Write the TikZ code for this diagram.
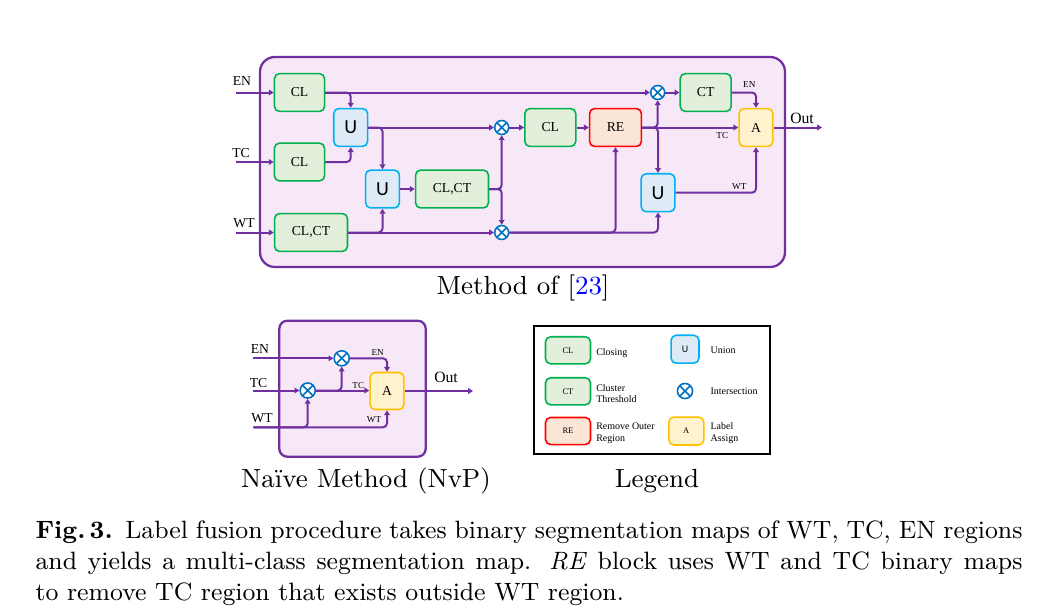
\documentclass[tikz,border=0pt]{standalone}
\usepackage{fontspec}
\usetikzlibrary{arrows.meta,calc}
\newfontfamily\dfont{Liberation Serif}
\newfontfamily\ufont{Carlito}
\definecolor{lp}{HTML}{7030A0}
\definecolor{panel}{HTML}{F6E8F7}
\definecolor{grB}{HTML}{00B050}
\definecolor{grF}{HTML}{E2EFDA}
\definecolor{blB}{HTML}{00B0F0}
\definecolor{blF}{HTML}{DEEBF7}
\definecolor{rdB}{HTML}{FF0000}
\definecolor{rdF}{HTML}{FBE5D6}
\definecolor{ywB}{HTML}{FFC000}
\definecolor{ywF}{HTML}{FFF2CC}
\definecolor{isc}{HTML}{0070C0}
\definecolor{refblue}{HTML}{0000FF}
\tikzset{
  box/.style={rounded corners=1.8pt, line width=0.55pt, inner sep=0pt,
    minimum width=17.6pt, minimum height=13.3pt, font=\dfont\fontsize{4.8}{6}\selectfont},
  gbox/.style={box, draw=grB, fill=grF},
  ubox/.style={box, draw=blB, fill=blF, minimum width=11.9pt, font=\ufont\fontsize{7}{8}\selectfont},
  rbox/.style={box, draw=rdB, fill=rdF, minimum width=18.2pt},
  abox/.style={box, draw=ywB, fill=ywF, minimum width=11.9pt},
  isect/.style={circle, draw=isc, fill=white, line width=0.55pt, minimum size=4.9pt, inner sep=0pt,
    path picture={\draw[isc, line width=0.55pt]
      (path picture bounding box.north west) -- (path picture bounding box.south east)
      (path picture bounding box.north east) -- (path picture bounding box.south west);}},
  wire/.style={draw=lp, line width=0.7pt, rounded corners=1.4pt, -{Triangle[length=1.7pt,width=2pt]}},
  inlbl/.style={inner sep=0pt, font=\dfont\fontsize{4.8}{6}\selectfont},
  outlbl/.style={inner sep=0pt, font=\dfont\fontsize{5.5}{6}\selectfont},
  smlbl/.style={inner sep=0pt, font=\dfont\fontsize{3.2}{4}\selectfont},
  panelbox/.style={draw=lp, fill=panel, line width=0.8pt},
  title/.style={inner sep=0pt, font=\fontsize{9.2}{11}\selectfont},
  legtxt/.style={inner sep=0pt, anchor=west, align=left, font=\dfont\fontsize{3.5}{4.1}\selectfont},
  legbox/.style={minimum width=15.8pt, minimum height=9.5pt, font=\dfont\fontsize{3}{4}\selectfont}
}
\begin{document}
\begin{tikzpicture}[x=0.351pt,y=-0.351pt]
\useasboundingbox (0,0) rectangle (1052,613);
% ---------------- top panel ----------------
\draw[panelbox, rounded corners=5.2pt] (260,57) rectangle (785,267);
\node[title] (t1) at (523,288) {Method of [\textcolor{refblue}{23}]};

\node[gbox] (clEN) at (299.5,92.5) {CL};
\node[gbox] (clTC) at (299.5,162) {CL};
\node[gbox, minimum width=25.6pt] (clWT) at (311,232.5) {CL,CT};
\node[ubox] (u1) at (350.7,127.5) {U};
\node[ubox] (u2) at (382.5,189) {U};
\node[gbox, minimum width=25.6pt] (clct) at (452,189) {CL,CT};
\node[isect] (x1) at (501.7,127.5) {};
\node[isect] (x2) at (501.7,232.5) {};
\node[gbox, minimum width=17.9pt] (cl) at (550.3,127.5) {CL};
\node[rbox] (re) at (615.5,127.5) {RE};
\node[isect] (xt) at (657.7,92.5) {};
\node[gbox, minimum width=17.9pt] (ct) at (705.7,92.5) {CT};
\node[abox] (a) at (756,127.5) {A};
\node[ubox] (u3) at (658,192.7) {U};

\coordinate (inEN) at (236,92.5);
\coordinate (inTC) at (236,162);
\coordinate (inWT) at (236,232.5);
\coordinate (outT) at (822,127.5);
\node[inlbl] (lEN) at (242,81) {EN};
\node[inlbl] (lTC) at (241,153) {TC};
\node[inlbl] (lWT) at (244,223) {WT};
\node[outlbl] (lOut) at (802,118.5) {Out};
\node[smlbl] (sEN) at (749.3,85) {EN};
\node[smlbl] (sTC) at (722.3,136) {TC};
\node[smlbl] (sWT) at (739.3,186.7) {WT};

\draw[wire] (inEN) -- (clEN.west);
\draw[wire] (inTC) -- (clTC.west);
\draw[wire] (inWT) -- (clWT.west);
\draw[wire] (clEN.east) -- (xt.west);
\draw[wire] (clEN.east) -| (u1.north);
\draw[wire] (clTC.east) -| (u1.south);
\draw[wire] (u1.east) -- (x1.west);
\draw[wire] (u1.east) -| (u2.north);
\draw[wire] (clWT.east) -- (x2.west);
\draw[wire] (clWT.east) -| (u2.south);
\draw[wire] (u2.east) -- (clct.west);
\draw[wire] (clct.east) -| (x1.south);
\draw[wire] (clct.east) -| (x2.north);
\draw[wire] (x1.east) -- (cl.west);
\draw[wire] (cl.east) -- (re.west);
\draw[wire] (re.east) -- (a.west);
\draw[wire] (re.east) -| (xt.south);
\draw[wire] (re.east) -| (u3.north);
\draw[wire] (xt.east) -- (ct.west);
\draw[wire] (ct.east) -| (a.north);
\draw[wire] (x2.east) -| (u3.south);
\draw[wire] (x2.east) -| (re.south);
\draw[wire] (u3.east) -| (a.south);
\draw[wire] (a.east) -- (outT);

% ---------------- naive panel ----------------
\draw[panelbox, rounded corners=2.8pt] (279.3,320.7) rectangle (425.7,456.7);
\node[title] (t2) at (366,481) {Naïve Method (NvP)};
\node[isect, minimum size=5.3pt] (xa) at (341.7,358.3) {};
\node[isect, minimum size=5.3pt] (xb) at (307.7,390.5) {};
\node[abox, minimum height=13pt] (a2) at (387,391) {A};
\coordinate (inEN2) at (253.3,358.3);
\coordinate (inTC2) at (253.3,390.5);
\coordinate (inWT2) at (253.3,427.3);
\coordinate (out2) at (473,391);
\node[inlbl] (nEN) at (260,349.3) {EN};
\node[inlbl] (nTC) at (258.5,382.7) {TC};
\node[inlbl] (nWT) at (262,417.7) {WT};
\node[outlbl] (nOut) at (446,377.7) {Out};
\node[smlbl] (nsEN) at (377.7,352.7) {EN};
\node[smlbl] (nsTC) at (358.3,385.3) {TC};
\node[smlbl] (nsWT) at (374,419.7) {WT};

\draw[wire] (inEN2) -- (xa.west);
\draw[wire] (xa.east) -| (a2.north);
\draw[wire] (inTC2) -- (xb.west);
\draw[wire] (xb.east) -- (a2.west |- xb.east);
\draw[wire] (xb.east) -| (xa.south);
\draw[wire] (inWT2) -| (a2.south);
\draw[wire] (inWT2) -| (xb.south);
\draw[wire] (a2.east) -- (out2);

% ---------------- legend ----------------
\draw[black, line width=0.75pt] (534.3,325.7) rectangle (770,454.3);
\node[title] (t3) at (657,481) {Legend};
\node[gbox, legbox] (lgCL) at (568,350.3) {CL};
\node[gbox, legbox] (lgCT) at (568,391.3) {CT};
\node[rbox, legbox] (lgRE) at (568,431) {RE};
\node[ubox, legbox, minimum width=9.8pt, minimum height=9.8pt, font=\ufont\fontsize{3.5}{4}\selectfont] (lgU) at (685,349.2) {U};
\node[isect, minimum size=5.3pt] (lgX) at (685,391) {};
\node[abox, legbox, minimum width=12.3pt, minimum height=9.8pt] (lgA) at (686.3,431) {A};
\node[legtxt] (dCL) at (595.7,352.7) {Closing};
\node[legtxt] (dCT) at (595.7,393.5) {Cluster\\Threshold};
\node[legtxt] (dRE) at (595.7,433) {Remove Outer\\Region};
\node[legtxt] (dU) at (710,350.7) {Union};
\node[legtxt] (dX) at (710,391) {Intersection};
\node[legtxt] (dA) at (710,433) {Label\\Assign};

% ---------------- caption ----------------
\node[anchor=north west, inner sep=0pt, text width=346.4pt, align=justify,
      font=\fontsize{8.8}{11}\selectfont] (cap) at (35,520)
{\hyphenpenalty=10000\exhyphenpenalty=10000
\textbf{Fig.\,3.}\enspace Label fusion procedure takes binary segmentation maps of WT, TC, EN regions\linebreak
and yields a multi-class segmentation map. \textit{RE} block uses WT and TC binary maps\linebreak
to remove TC region that exists outside WT region.};
\end{tikzpicture}
\end{document}
